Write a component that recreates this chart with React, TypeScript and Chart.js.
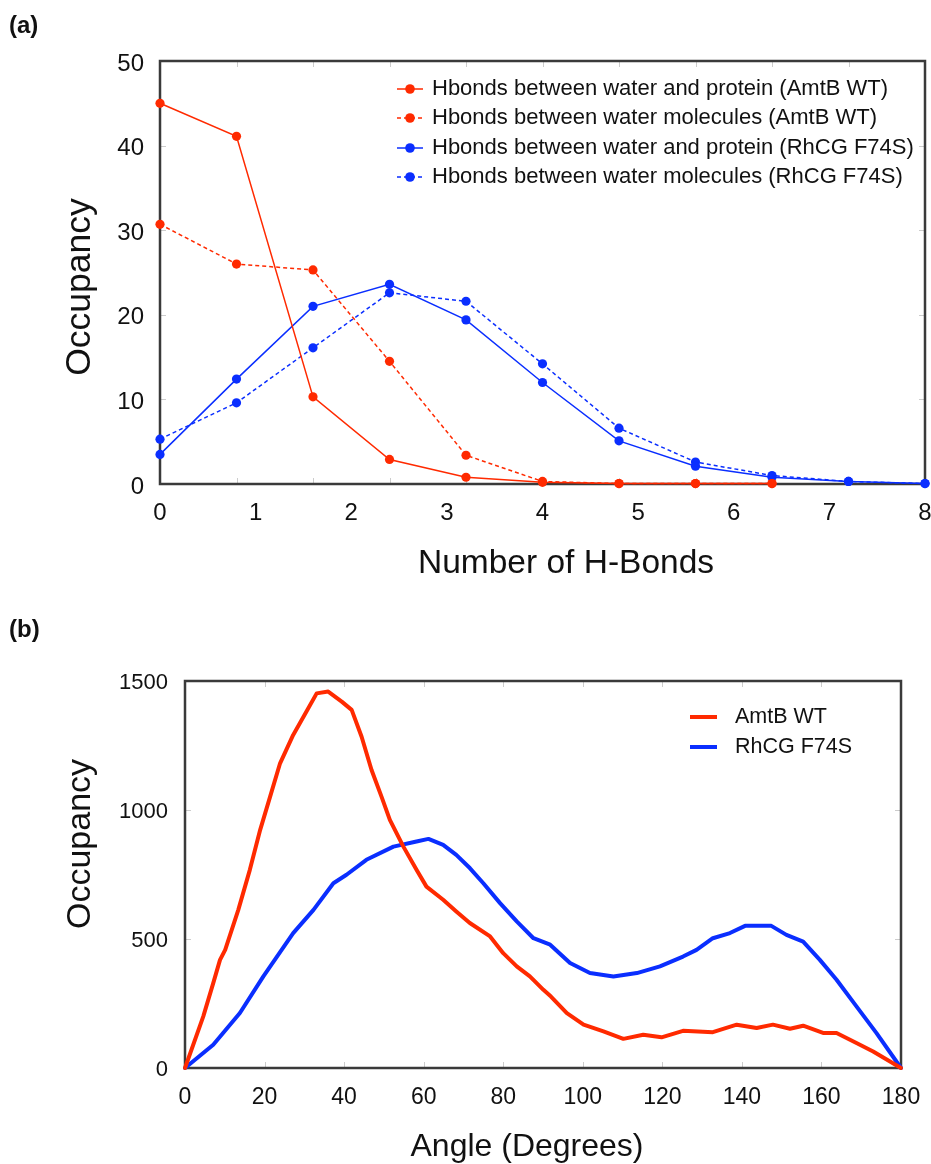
import React, { useEffect, useRef } from "react";
import { Chart, registerables } from "chart.js";

Chart.register(...registerables);

const FONT = "'Liberation Sans', Arial, Helvetica, sans-serif";
const RED = "#FF2A00";
const BLUE = "#0A2EFF";
const INK = "#111111";

// ---------- Panel (a): H-bond occupancy ----------
const hbondPositions = [0, 0.8, 1.6, 2.4, 3.2, 4.0, 4.8, 5.6, 6.4, 7.2, 8.0];
const hbondTickLabels = [0, 1, 2, 3, 4, 5, 6, 7, 8];
const occupancyTicksA = [0, 10, 20, 30, 40, 50];
const amtbProtein = [45.0, 41.1, 10.3, 2.9, 0.8, 0.2, 0.05, 0.05, 0.05];
const amtbWater = [30.7, 26.0, 25.3, 14.5, 3.4, 0.3, 0.05, 0.05, 0.05];
const rhcgProtein = [3.5, 12.4, 21.0, 23.6, 19.4, 12.0, 5.1, 2.1, 0.8, 0.3, 0.05];
const rhcgWater = [5.3, 9.6, 16.1, 22.6, 21.6, 14.2, 6.6, 2.6, 1.0, 0.3, 0.05];
const seriesLabelsA = [
  "Hbonds between water and protein (AmtB WT)",
  "Hbonds between water molecules (AmtB WT)",
  "Hbonds between water and protein (RhCG F74S)",
  "Hbonds between water molecules (RhCG F74S)",
];

// ---------- Panel (b): angle occupancy ----------
const angleTicks = [0, 20, 40, 60, 80, 100, 120, 140, 160, 180];
const occupancyTicksB = [0, 500, 1000, 1500];
const amtbAngles = [
  0, 4.6, 7.1, 8.8, 10.1, 13.4, 16.3, 18.9, 21.4, 23.9, 27.2, 30.5, 33.1, 36.0,
  39.4, 41.9, 44.4, 46.9, 49.4, 51.5, 54.9, 58.2, 60.7, 64.9, 68.2, 71.6, 76.7,
  80.0, 83.4, 86.7, 90.1, 92.0, 96.0, 100.2, 105.2, 110.2, 115.2, 119.8, 125.2,
  132.7, 138.7, 143.7, 147.8, 152.1, 155.4, 160.4, 163.8, 168.8, 173.0, 180,
];
const amtbAngleOcc = [
  0, 200, 329, 419, 458, 613, 768, 923, 1052, 1181, 1291, 1381, 1452, 1459,
  1420, 1388, 1284, 1155, 1052, 962, 858, 768, 703, 652, 607, 562, 510,
  445, 394, 355, 303, 277, 213, 168, 142, 113, 129, 119, 144,
  139, 168, 155, 168, 152, 164, 136, 136, 97, 64, 0,
];
const rhcgAngles = [
  0, 7.1, 13.8, 19.7, 27.2, 32.3, 37.3, 40.6, 45.6, 52.4, 58.2, 61.2, 64.9,
  68.2, 71.6, 75.0, 79.2, 83.4, 87.6, 91.8, 96.8, 101.8, 107.7, 113.6, 119.4,
  125.2, 128.6, 132.7, 137.0, 140.8, 147.4, 151.2, 155.4, 159.6, 163.8, 168.8,
  173.8, 180,
];
const rhcgAngleOcc = [
  0, 90, 213, 355, 523, 613, 716, 749, 807, 858, 878, 888, 865,
  826, 775, 716, 639, 568, 503, 478, 407, 368, 355, 368, 394,
  432, 458, 503, 523, 551, 551, 516, 490, 419, 342, 239,
  136, 0,
];
const seriesLabelsB = ["AmtB WT", "RhCG F74S"];

const pts = (xs: number[], ys: number[]) => ys.map((y, i) => ({ x: xs[i], y }));

type DecorCfg = {
  xMarks: number[];
  yMarks: number[];
  legend: { x0: number; x1: number; textX: number; rows: number[]; font: string; dot: number };
  xTitle: { text: string; cx: number; baseline: number; font: string };
  yTitle: { text: string; baselineX: number; cy: number; font: string };
  panel: { text: string; x: number; baseline: number };
};

function makeDecor(cfg: DecorCfg) {
  return {
    id: "decor",
    beforeDatasetsDraw(chart: any) {
      const { ctx, chartArea } = chart;
      const { left, right, top, bottom } = chartArea;
      const xs = chart.scales.x;
      const ys = chart.scales.y;
      ctx.save();
      ctx.strokeStyle = "#cccccc";
      ctx.lineWidth = 1;
      ctx.beginPath();
      for (const v of cfg.xMarks) {
        const p = Math.round(xs.getPixelForValue(v)) + 0.5;
        if (p <= left + 2 || p >= right - 2) continue;
        ctx.moveTo(p, bottom);
        ctx.lineTo(p, bottom - 6);
        ctx.moveTo(p, top);
        ctx.lineTo(p, top + 6);
      }
      for (const v of cfg.yMarks) {
        const p = Math.round(ys.getPixelForValue(v)) + 0.5;
        if (p <= top + 2 || p >= bottom - 2) continue;
        ctx.moveTo(left, p);
        ctx.lineTo(left + 6, p);
        ctx.moveTo(right, p);
        ctx.lineTo(right - 6, p);
      }
      ctx.stroke();
      ctx.strokeStyle = "#3a3a3a";
      ctx.lineWidth = 2.5;
      ctx.strokeRect(left, top, right - left, bottom - top);
      ctx.restore();
    },
    afterDatasetsDraw(chart: any) {
      const { ctx, chartArea } = chart;
      const { left, top } = chartArea;
      ctx.save();
      const L = cfg.legend;
      chart.data.datasets.forEach((ds: any, i: number) => {
        const y = top + L.rows[i];
        ctx.strokeStyle = ds.borderColor;
        ctx.lineWidth = ds.borderWidth;
        ctx.setLineDash(ds.borderDash || []);
        ctx.beginPath();
        ctx.moveTo(left + L.x0, y);
        ctx.lineTo(left + L.x1, y);
        ctx.stroke();
        ctx.setLineDash([]);
        if (L.dot > 0) {
          ctx.fillStyle = ds.borderColor;
          ctx.beginPath();
          ctx.arc(left + (L.x0 + L.x1) / 2, y, L.dot, 0, Math.PI * 2);
          ctx.fill();
        }
        ctx.fillStyle = INK;
        ctx.font = L.font;
        ctx.textAlign = "left";
        ctx.textBaseline = "middle";
        ctx.fillText(ds.label, left + L.textX, y);
      });
      // axis titles
      ctx.fillStyle = INK;
      ctx.textBaseline = "alphabetic";
      ctx.textAlign = "center";
      ctx.font = cfg.xTitle.font;
      ctx.fillText(cfg.xTitle.text, cfg.xTitle.cx, cfg.xTitle.baseline);
      ctx.save();
      ctx.translate(cfg.yTitle.baselineX, cfg.yTitle.cy);
      ctx.rotate(-Math.PI / 2);
      ctx.font = cfg.yTitle.font;
      ctx.fillText(cfg.yTitle.text, 0, 0);
      ctx.restore();
      // panel label
      ctx.textAlign = "left";
      ctx.font = `bold 24px ${FONT}`;
      ctx.fillText(cfg.panel.text, cfg.panel.x, cfg.panel.baseline);
      ctx.restore();
    },
  };
}

function fixedTicks(values: number[]) {
  return (scale: any) => {
    scale.ticks = values.map((v) => ({ value: v }));
  };
}

const plainLabel = (v: any) => String(v);

function PanelA() {
  const ref = useRef<HTMLCanvasElement | null>(null);
  useEffect(() => {
    if (!ref.current) return;
    const common = { borderWidth: 1.5, pointRadius: 4.6, pointBorderWidth: 0, clip: false as any, tension: 0 };
    const chart = new Chart(ref.current, {
      type: "line",
      data: {
        datasets: [
          { label: seriesLabelsA[0], data: pts(hbondPositions, amtbProtein), borderColor: RED, backgroundColor: RED, pointBackgroundColor: RED, ...common },
          { label: seriesLabelsA[1], data: pts(hbondPositions, amtbWater), borderColor: RED, backgroundColor: RED, pointBackgroundColor: RED, borderDash: [4, 3], ...common },
          { label: seriesLabelsA[2], data: pts(hbondPositions, rhcgProtein), borderColor: BLUE, backgroundColor: BLUE, pointBackgroundColor: BLUE, ...common },
          { label: seriesLabelsA[3], data: pts(hbondPositions, rhcgWater), borderColor: BLUE, backgroundColor: BLUE, pointBackgroundColor: BLUE, borderDash: [4, 3], ...common },
        ] as any,
      },
      options: {
        animation: false,
        responsive: false,
        events: [],
        layout: { padding: { top: 61, right: 6, left: 0, bottom: 0 } },
        plugins: { legend: { display: false }, tooltip: { enabled: false } },
        scales: {
          x: {
            type: "linear",
            min: 0,
            max: 8,
            afterBuildTicks: fixedTicks(hbondTickLabels),
            afterFit: (s: any) => { s.height = 116; s.paddingLeft = 0; s.paddingRight = 0; },
            grid: { display: false, drawTicks: false },
            border: { display: false },
            ticks: { font: { family: FONT, size: 24 }, color: INK, padding: 15, maxRotation: 0, autoSkip: false, callback: plainLabel },
          },
          y: {
            type: "linear",
            min: 0,
            max: 50,
            afterBuildTicks: fixedTicks(occupancyTicksA),
            afterFit: (s: any) => { s.width = 160; s.paddingTop = 0; s.paddingBottom = 0; },
            grid: { display: false, drawTicks: false },
            border: { display: false },
            ticks: { font: { family: FONT, size: 24 }, color: INK, padding: 16, labelOffset: 3, callback: plainLabel },
          },
        },
      } as any,
      plugins: [
        makeDecor({
          xMarks: hbondPositions,
          yMarks: occupancyTicksA,
          legend: { x0: 237, x1: 263, textX: 272, rows: [28, 57, 87, 116], font: `22px ${FONT}`, dot: 4.8 },
          xTitle: { text: "Number of H-Bonds", cx: 566, baseline: 573, font: `33.5px ${FONT}` },
          yTitle: { text: "Occupancy", baselineX: 90, cy: 287, font: `35.5px ${FONT}` },
          panel: { text: "(a)", x: 9, baseline: 33 },
        }) as any,
      ],
    });
    return () => chart.destroy();
  }, []);
  return <canvas ref={ref} width={931} height={600} style={{ position: "absolute", left: 0, top: 0, display: "block" }} />;
}

function PanelB() {
  const ref = useRef<HTMLCanvasElement | null>(null);
  useEffect(() => {
    if (!ref.current) return;
    const common = { borderWidth: 4, pointRadius: 0, clip: false as any, tension: 0, borderJoinStyle: "round", borderCapStyle: "round" };
    const chart = new Chart(ref.current, {
      type: "line",
      data: {
        datasets: [
          { label: seriesLabelsB[0], data: pts(amtbAngles, amtbAngleOcc), borderColor: RED, backgroundColor: RED, ...common },
          { label: seriesLabelsB[1], data: pts(rhcgAngles, rhcgAngleOcc), borderColor: BLUE, backgroundColor: BLUE, ...common },
        ] as any,
      },
      options: {
        animation: false,
        responsive: false,
        events: [],
        layout: { padding: { top: 81, right: 30, left: 0, bottom: 0 } },
        plugins: { legend: { display: false }, tooltip: { enabled: false } },
        scales: {
          x: {
            type: "linear",
            min: 0,
            max: 180,
            afterBuildTicks: fixedTicks(angleTicks),
            afterFit: (s: any) => { s.height = 96; s.paddingLeft = 0; s.paddingRight = 0; },
            grid: { display: false, drawTicks: false },
            border: { display: false },
            ticks: { font: { family: FONT, size: 23 }, color: INK, padding: 16, maxRotation: 0, autoSkip: false, callback: plainLabel },
          },
          y: {
            type: "linear",
            min: 0,
            max: 1500,
            afterBuildTicks: fixedTicks(occupancyTicksB),
            afterFit: (s: any) => { s.width = 185; s.paddingTop = 0; s.paddingBottom = 0; },
            grid: { display: false, drawTicks: false },
            border: { display: false },
            ticks: { font: { family: FONT, size: 22 }, color: INK, padding: 17, labelOffset: 2, callback: plainLabel },
          },
        },
      } as any,
      plugins: [
        makeDecor({
          xMarks: angleTicks,
          yMarks: occupancyTicksB,
          legend: { x0: 505, x1: 532, textX: 550, rows: [36, 66], font: `21.5px ${FONT}`, dot: 0 },
          xTitle: { text: "Angle (Degrees)", cx: 527, baseline: 556, font: `32px ${FONT}` },
          yTitle: { text: "Occupancy", baselineX: 90, cy: 244, font: `34px ${FONT}` },
          panel: { text: "(b)", x: 9, baseline: 37 },
        }) as any,
      ],
    });
    return () => chart.destroy();
  }, []);
  return <canvas ref={ref} width={931} height={564} style={{ position: "absolute", left: 0, top: 600, display: "block" }} />;
}

export default function App() {
  return (
    <div style={{ position: "absolute", left: 0, top: 0, width: 931, height: 1164, background: "#ffffff", overflow: "hidden" }}>
      <PanelA />
      <PanelB />
    </div>
  );
}
